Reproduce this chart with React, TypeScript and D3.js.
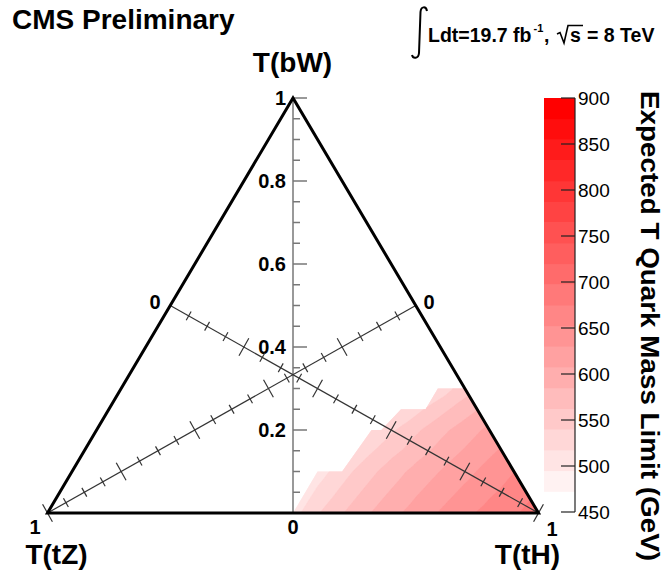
import React, { useMemo } from "react";
import * as d3 from "d3";

const FONT = "'Liberation Sans', Arial, Helvetica, sans-serif";

// Expected T quark mass limit (GeV) on the branching-fraction scan.
// One array per T(bW) row; T(tH) runs from the row start in steps of 0.05.
const rowBW = [0, 0.1, 0.2, 0.25, 0.3];
const rowTHStart = [0.5, 0.5, 0.55, 0.6, 0.65];
const limitsBW000 = [508, 538, 561, 582, 600, 617, 632, 647, 660, 672, 686];
const limitsBW010 = [506, 530, 553, 574, 592, 608, 623, 638, 652];
const limitsBW020 = [514, 536, 558, 578, 596, 613];
const limitsBW025 = [520, 544, 565, 584];
const limitsBW030 = [526, 552];
const limitRows = [limitsBW000, limitsBW010, limitsBW020, limitsBW025, limitsBW030];

// Boundary of the scanned region (T(bW), T(tH)) on its upper-left side
const edgeBW = [0, 0.1, 0.1, 0.2, 0.2, 0.25, 0.25, 0.3, 0.3];
const edgeTH = [0.5, 0.5, 0.55, 0.56, 0.58, 0.595, 0.645, 0.645, 0.7];

// Colour scale
const zMin = 450;
const zMax = 900;
const nLevels = 20;
const zTicks = [450, 500, 550, 600, 650, 700, 750, 800, 850, 900];
const bwTickLabels = ["0.2", "0.4", "0.6", "0.8", "1"];

const W = 664;
const H = 573;

// T(bW) -> vertical position, T(tH) - T(tZ) -> horizontal position
const yScale = d3.scaleLinear().domain([0, 1]).range([513, 98]);
const xScale = d3.scaleLinear().domain([-1, 1]).range([47.5, 538.5]);
const zScale = d3.scaleLinear().domain([zMin, zMax]).range([512, 98]);

function toXY(bW: number, tH: number): [number, number] {
  const tZ = 1 - bW - tH;
  return [xScale(tH - tZ), yScale(bW)];
}

const levelStep = (zMax - zMin) / nLevels;
const levelColor = (k: number) => d3.interpolateRgb("#ffffff", "#ff0000")(k / (nLevels - 1));

export default function App() {
  const bands = useMemo(() => {
    const pts: { x: number; y: number; v: number }[] = [];
    rowBW.forEach((b, r) => {
      limitRows[r].forEach((v, i) => {
        const [x, y] = toXY(b, rowTHStart[r] + 0.05 * i);
        pts.push({ x, y, v });
      });
    });
    const delaunay = d3.Delaunay.from(pts, (p) => p.x, (p) => p.y);
    const tri = delaunay.triangles;
    const interp = (px: number, py: number) => {
      for (let k = 0; k < tri.length; k += 3) {
        const a = pts[tri[k]], b = pts[tri[k + 1]], c = pts[tri[k + 2]];
        const det = (b.y - c.y) * (a.x - c.x) + (c.x - b.x) * (a.y - c.y);
        if (Math.abs(det) < 1e-9) continue;
        const l1 = ((b.y - c.y) * (px - c.x) + (c.x - b.x) * (py - c.y)) / det;
        const l2 = ((c.y - a.y) * (px - c.x) + (a.x - c.x) * (py - c.y)) / det;
        const l3 = 1 - l1 - l2;
        if (l1 >= -1e-9 && l2 >= -1e-9 && l3 >= -1e-9) return l1 * a.v + l2 * b.v + l3 * c.v;
      }
      return pts[delaunay.find(px, py)].v;
    };
    const cell = 1.5;
    const x0 = 284, y0 = 376;
    const nx = Math.ceil((548 - x0) / cell) + 1;
    const ny = Math.ceil((520 - y0) / cell) + 1;
    const values = new Array(nx * ny);
    for (let j = 0; j < ny; j++)
      for (let i = 0; i < nx; i++) values[j * nx + i] = interp(x0 + i * cell, y0 + j * cell);
    const thresholds = d3.range(1, nLevels).map((k) => zMin + levelStep * k);
    const contours = d3.contours().size([nx, ny]).thresholds(thresholds)(values);
    const path = d3.geoPath(
      d3.geoIdentity().scale(cell).translate([x0 - 0.5 * cell, y0 - 0.5 * cell]) as any
    );
    return contours.map((c, k) => ({ d: path(c as any) || "", fill: levelColor(k + 1) }));
  }, []);

  const regionPath = useMemo(() => {
    const ring = edgeBW.map((b, i) => toXY(b, edgeTH[i]));
    ring.push(toXY(0, 1));
    return (d3.line()(ring) || "") + "Z";
  }, []);

  const top = toXY(1, 0);
  const left = toXY(0, 0);
  const right = toXY(0, 1);
  const leftMid = toXY(0.5, 0);
  const rightMid = toXY(0.5, 0.5);
  const baseMid = toXY(0, 0.5);

  const tValues = d3.range(0, 21).map((i) => i * 0.05);
  const isMajor = (i: number) => i % 4 === 0;

  const diagTicks = (from: [number, number], to: [number, number]) => {
    const dx = to[0] - from[0], dy = to[1] - from[1];
    const len = Math.hypot(dx, dy);
    const nxv = -dy / len, nyv = dx / len;
    return tValues.map((t, i) => {
      const px = from[0] + dx * t, py = from[1] + dy * t;
      const l = isMajor(i) ? 10 : 5;
      return { x1: px - nxv * l, y1: py - nyv * l, x2: px + nxv * l, y2: py + nyv * l };
    });
  };
  const ticksTH = diagTicks(leftMid, right);
  const ticksTZ = diagTicks(rightMid, left);

  return (
    <svg
      width={W}
      height={H}
      viewBox={`0 0 ${W} ${H}`}
      style={{ position: "absolute", left: 0, top: 0, display: "block", background: "#fff" }}
      fontFamily={FONT}
    >
      <rect x={0} y={0} width={W} height={H} fill="#fff" />
      <defs>
        <clipPath id="scanRegion">
          <path d={regionPath} />
        </clipPath>
      </defs>

      {/* Expected-limit contour bands */}
      <g clipPath="url(#scanRegion)">
        {bands.map((b, i) => (
          <path key={i} d={b.d} fill={b.fill} stroke={b.fill} strokeWidth={0.4} />
        ))}
      </g>

      {/* T(bW) axis */}
      <line x1={baseMid[0]} y1={yScale(0)} x2={top[0]} y2={yScale(1)} stroke="#777" strokeWidth={1.5} />
      {tValues.map((t, i) => (
        <line
          key={`bw${i}`}
          x1={baseMid[0]}
          x2={baseMid[0] + (isMajor(i) ? 14 : 7)}
          y1={yScale(t)}
          y2={yScale(t)}
          stroke="#777"
          strokeWidth={1.5}
        />
      ))}
      {bwTickLabels.map((lab, i) => (
        <text
          key={lab}
          x={286}
          y={yScale(0.2 * (i + 1))}
          dy="0.36em"
          textAnchor="end"
          fontSize={20}
          fontWeight="bold"
        >
          {lab}
        </text>
      ))}

      {/* T(tH) and T(tZ) axes along the medians */}
      <line x1={leftMid[0]} y1={leftMid[1]} x2={right[0]} y2={right[1]} stroke="#333" strokeWidth={1.2} />
      <line x1={rightMid[0]} y1={rightMid[1]} x2={left[0]} y2={left[1]} stroke="#333" strokeWidth={1.2} />
      {[...ticksTH, ...ticksTZ].map((tk, i) => (
        <line key={`d${i}`} {...tk} stroke="#333" strokeWidth={1.2} />
      ))}

      {/* Triangle frame */}
      <path
        d={`M${left[0]},${left[1]}L${top[0]},${top[1]}L${right[0]},${right[1]}Z`}
        fill="none"
        stroke="#000"
        strokeWidth={3}
        strokeLinejoin="miter"
      />

      {/* Axis end labels */}
      <g fontSize={20} fontWeight="bold" textAnchor="middle">
        <text x={baseMid[0]} y={527} dy="0.36em">0</text>
        <text x={35} y={527} dy="0.36em">1</text>
        <text x={552} y={529} dy="0.36em">1</text>
        <text x={155} y={301.5} dy="0.36em">0</text>
        <text x={429} y={301.5} dy="0.36em">0</text>
      </g>

      {/* Vertex titles */}
      <g fontSize={28} fontWeight="bold" textAnchor="middle">
        <text x={292.5} y={72}>T(bW)</text>
        <text x={56.5} y={564}>T(tZ)</text>
        <text x={527.5} y={564}>T(tH)</text>
      </g>

      {/* Headers */}
      <text x={12} y={29} fontSize={28} fontWeight="bold">CMS Preliminary</text>
      <path
        d="M427,11 C426,6 421,6 420.5,12 L419,53 C418.5,59 413,59 412,55"
        fill="none"
        stroke="#000"
        strokeWidth={2}
      />
      <g fontWeight="bold" fontSize={19.5}>
        <text x={428} y={42}>Ldt=19.7 fb</text>
        <text x={533.5} y={32} fontSize={11}>-1</text>
        <text x={544} y={42}>,</text>
        <path d="M557,34 L560,32.5 L564,43 L568,25.5 L583,25.5" fill="none" stroke="#000" strokeWidth={1.6} />
        <text x={570} y={42}>s</text>
        <text x={587} y={42}>= 8 TeV</text>
      </g>

      {/* Colour bar */}
      {d3.range(1, nLevels).map((k) => (
        <rect
          key={`cb${k}`}
          x={544}
          width={31}
          y={zScale(zMin + levelStep * (k + 1))}
          height={zScale(zMin + levelStep * k) - zScale(zMin + levelStep * (k + 1)) + 0.5}
          fill={levelColor(k)}
        />
      ))}
      <line x1={575} x2={575} y1={zScale(zMin)} y2={zScale(zMax)} stroke="#222" strokeWidth={1.2} />
      {zTicks.map((z) => (
        <g key={`zt${z}`}>
          <line x1={561} x2={575} y1={zScale(z)} y2={zScale(z)} stroke="#222" strokeWidth={1.2} />
          <text x={578} y={zScale(z)} dy="0.36em" fontSize={19}>
            {z}
          </text>
        </g>
      ))}
      <text
        transform={`translate(641,326) rotate(90)`}
        textAnchor="middle"
        fontSize={26}
        fontWeight="bold"
        textLength={470}
        lengthAdjust="spacingAndGlyphs"
      >
        Expected T Quark Mass Limit (GeV)
      </text>
    </svg>
  );
}
